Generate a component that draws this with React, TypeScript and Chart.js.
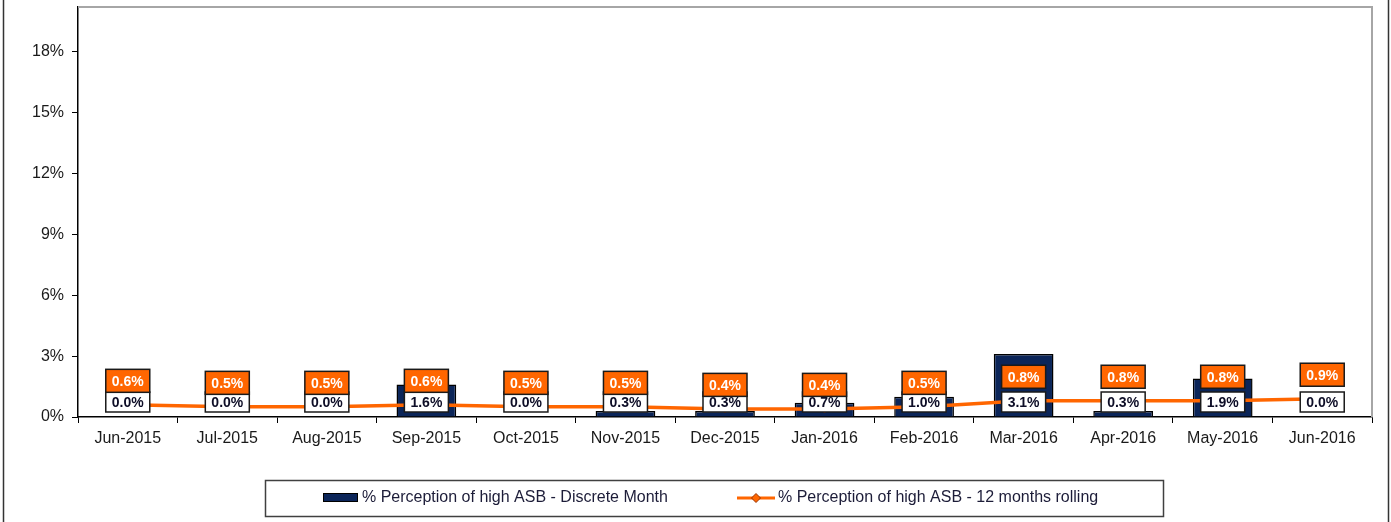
import React, { useEffect, useRef } from "react";
import { Chart, registerables } from "chart.js";

Chart.register(...registerables);

const categories = [
  "Jun-2015", "Jul-2015", "Aug-2015", "Sep-2015", "Oct-2015", "Nov-2015", "Dec-2015",
  "Jan-2016", "Feb-2016", "Mar-2016", "Apr-2016", "May-2016", "Jun-2016",
];
const discreteMonth = [0.0, 0.0, 0.0, 1.6, 0.0, 0.3, 0.3, 0.7, 1.0, 3.1, 0.3, 1.9, 0.0];
const rolling12 = [0.6, 0.5, 0.5, 0.6, 0.5, 0.5, 0.4, 0.4, 0.5, 0.8, 0.8, 0.8, 0.9];
const yTicks = [0, 3, 6, 9, 12, 15, 18];
const seriesNames = [
  "% Perception of high ASB - Discrete Month",
  "% Perception of high ASB - 12 months rolling",
];

const FONT = "'Liberation Sans', Arial, sans-serif";
const NAVY = "#0b2559";
const ORANGE = "#ff6600";

const decorPlugin = {
  id: "decor",
  beforeDatasetsDraw(chart: any) {
    const { ctx, chartArea } = chart;
    ctx.save();
    ctx.strokeStyle = "#a6a6a6";
    ctx.lineWidth = 2;
    ctx.beginPath();
    ctx.moveTo(chartArea.left, chartArea.top);
    ctx.lineTo(chartArea.right, chartArea.top);
    ctx.lineTo(chartArea.right, chartArea.bottom);
    ctx.stroke();
    ctx.restore();
  },
  afterDatasetsDraw(chart: any) {
    const { ctx, chartArea } = chart;
    const barMeta = chart.getDatasetMeta(0);
    const lineMeta = chart.getDatasetMeta(1);
    ctx.save();
    ctx.textAlign = "center";
    ctx.textBaseline = "middle";
    ctx.font = `bold 14px ${FONT}`;
    const w = 44;
    barMeta.data.forEach((el: any, i: number) => {
      const cx = el.x;
      const cy = chartArea.bottom - 15;
      const h = 20;
      ctx.fillStyle = "#ffffff";
      ctx.fillRect(cx - w / 2, cy - h / 2, w, h);
      ctx.strokeStyle = "#1a1a1a";
      ctx.lineWidth = 1.5;
      ctx.strokeRect(cx - w / 2, cy - h / 2, w, h);
      ctx.fillStyle = "#0d0d26";
      ctx.fillText(discreteMonth[i].toFixed(1) + "%", cx, cy + 1);
    });
    lineMeta.data.forEach((el: any, i: number) => {
      const cx = el.x;
      const cy = el.y - 24;
      const h = 23;
      ctx.fillStyle = ORANGE;
      ctx.fillRect(cx - w / 2, cy - h / 2, w, h);
      ctx.strokeStyle = "#1a1a1a";
      ctx.lineWidth = 1.5;
      ctx.strokeRect(cx - w / 2, cy - h / 2, w, h);
      ctx.fillStyle = "#ffffff";
      ctx.fillText(rolling12[i].toFixed(1) + "%", cx, cy + 1);
    });
    ctx.restore();
  },
  afterDraw(chart: any) {
    const { ctx } = chart;
    const H = chart.height;
    ctx.save();
    ctx.strokeStyle = "#333333";
    ctx.lineWidth = 1.5;
    ctx.beginPath();
    ctx.moveTo(3.5, 0);
    ctx.lineTo(3.5, H);
    ctx.moveTo(1388.5, 0);
    ctx.lineTo(1388.5, H);
    ctx.stroke();
    ctx.strokeStyle = "#404040";
    ctx.lineWidth = 1.5;
    ctx.strokeRect(265.5, 480.5, 898, 36);
    ctx.fillStyle = NAVY;
    ctx.fillRect(323, 493, 35, 9);
    ctx.strokeStyle = "#000";
    ctx.lineWidth = 1;
    ctx.strokeRect(323.5, 493.5, 34, 8);
    ctx.font = `16px ${FONT}`;
    ctx.textAlign = "left";
    ctx.textBaseline = "middle";
    ctx.fillStyle = "#1c1c38";
    ctx.fillText(seriesNames[0], 362, 498);
    ctx.strokeStyle = ORANGE;
    ctx.lineWidth = 3;
    ctx.beginPath();
    ctx.moveTo(737, 498);
    ctx.lineTo(775, 498);
    ctx.stroke();
    ctx.beginPath();
    ctx.moveTo(756, 493.5);
    ctx.lineTo(760.5, 498);
    ctx.lineTo(756, 502.5);
    ctx.lineTo(751.5, 498);
    ctx.closePath();
    ctx.fillStyle = ORANGE;
    ctx.fill();
    ctx.strokeStyle = "#993300";
    ctx.lineWidth = 1;
    ctx.stroke();
    ctx.fillStyle = "#1c1c38";
    ctx.fillText(seriesNames[1], 778, 498);
    ctx.restore();
  },
};

export default function App() {
  const ref = useRef<HTMLCanvasElement>(null);
  useEffect(() => {
    document.body.style.margin = "0";
    const canvas = ref.current!;
    const chart = new Chart(canvas, {
      type: "bar",
      data: {
        labels: categories,
        datasets: [
          {
            type: "bar",
            label: seriesNames[0],
            data: discreteMonth,
            backgroundColor: NAVY,
            borderColor: "#000000",
            borderWidth: 1.5,
            categoryPercentage: 1,
            barPercentage: 0.6,
            order: 2,
          },
          {
            type: "line",
            label: seriesNames[1],
            data: rolling12,
            borderColor: ORANGE,
            backgroundColor: ORANGE,
            borderWidth: 3.5,
            pointStyle: "rectRot",
            pointRadius: 4,
            pointBorderColor: "#993300",
            pointBorderWidth: 1,
            tension: 0,
            order: 1,
          },
        ],
      } as any,
      options: {
        responsive: false,
        animation: false,
        layout: { padding: { top: 7, right: 19, left: 0, bottom: 0 } },
        plugins: {
          legend: { display: false },
          tooltip: { enabled: false },
        },
        scales: {
          x: {
            offset: true,
            border: { color: "#000000", width: 1.5 },
            grid: {
              display: true,
              drawOnChartArea: false,
              drawTicks: true,
              tickLength: 6,
              color: "#000000",
              offset: true,
            },
            ticks: {
              color: "#1a1a1a",
              font: { family: FONT, size: 16 },
              padding: 6,
              maxRotation: 0,
              autoSkip: false,
            },
            afterFit(scale: any) {
              scale.height = 105;
              scale.paddingLeft = 0;
              scale.paddingRight = 0;
              scale.paddingTop = 0;
              scale.paddingBottom = 0;
            },
          },
          y: {
            min: 0,
            max: 20.2,
            border: { color: "#000000", width: 1.5 },
            grid: {
              display: true,
              drawOnChartArea: false,
              drawTicks: true,
              tickLength: 6,
              color: "#000000",
            },
            ticks: {
              color: "#1a1a1a",
              font: { family: FONT, size: 16 },
              padding: 8,
              callback: (v: any) => `${v}%`,
            },
            afterBuildTicks(scale: any) {
              scale.ticks = yTicks.map((v) => ({ value: v }));
            },
            afterFit(scale: any) {
              scale.width = 78;
              scale.paddingTop = 0;
              scale.paddingBottom = 0;
              scale.paddingLeft = 0;
              scale.paddingRight = 0;
            },
          },
        },
      } as any,
      plugins: [decorPlugin],
    });
    return () => chart.destroy();
  }, []);
  return (
    <canvas
      ref={ref}
      width={1391}
      height={522}
      style={{ display: "block", width: 1391, height: 522 }}
    />
  );
}
